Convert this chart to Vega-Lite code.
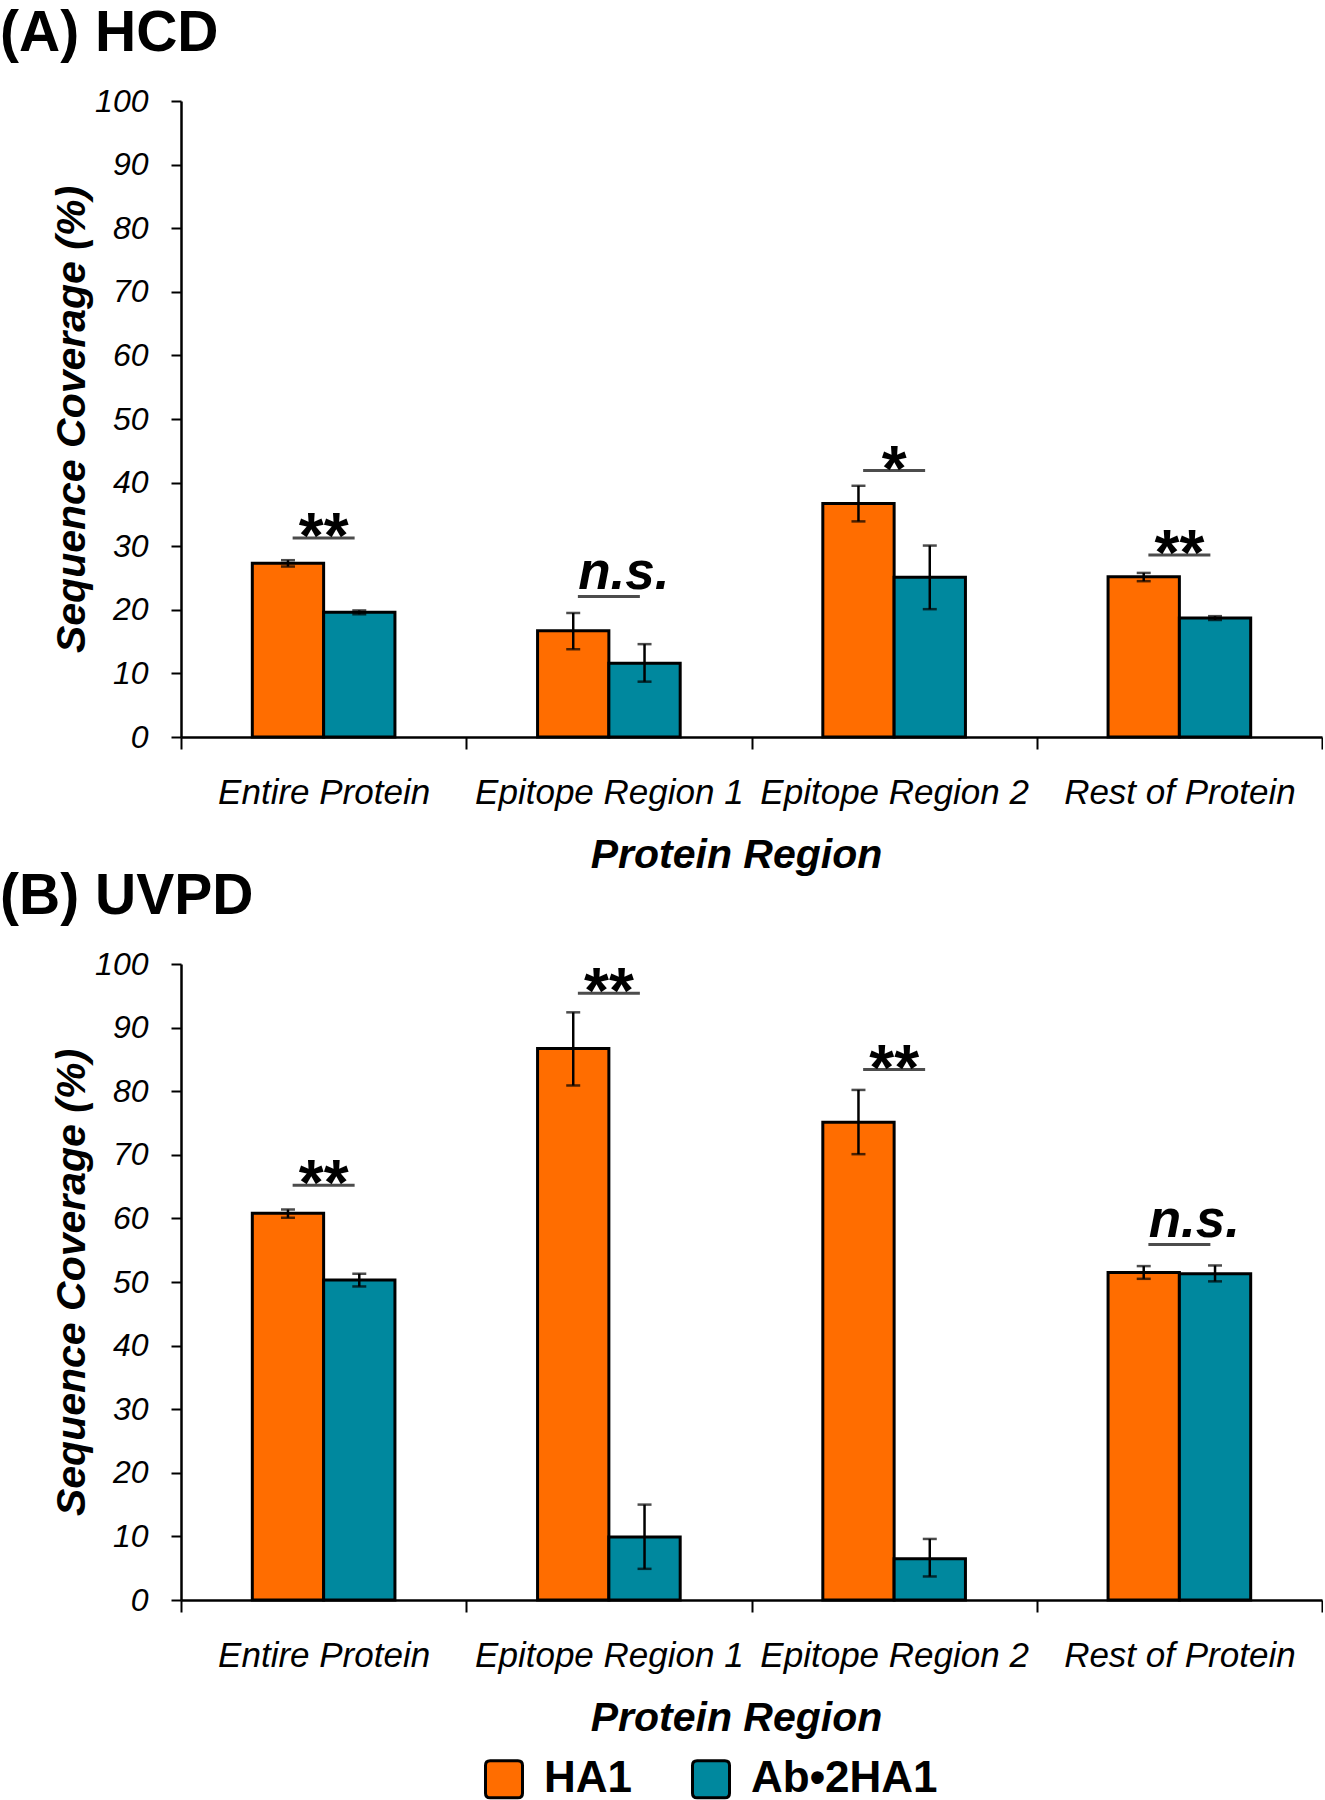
{
  "$schema": "https://vega.github.io/schema/vega-lite/v6.json",
  "padding": {"left": 0, "top": 5, "right": 0, "bottom": 0},
  "background": "white",
  "bounds": "flush",
  "spacing": 227,
  "config": {
    "view": {"stroke": null},
    "font": "Liberation Sans, Arial, sans-serif",
    "axis": {"domainColor": "black", "domainWidth": 2.5, "tickColor": "black", "tickWidth": 2, "labelColor": "black", "titleColor": "black", "grid": false, "labelLimit": 0}
  },
  "datasets": {
    "hcd": [
      {"region": "Entire Protein", "series": "HA1", "value": 27.3, "lo": 26.8, "hi": 27.8},
      {"region": "Entire Protein", "series": "Ab•2HA1", "value": 19.6, "lo": 19.3, "hi": 19.9},
      {"region": "Epitope Region 1", "series": "HA1", "value": 16.7, "lo": 13.8, "hi": 19.5},
      {"region": "Epitope Region 1", "series": "Ab•2HA1", "value": 11.6, "lo": 8.7, "hi": 14.6},
      {"region": "Epitope Region 2", "series": "HA1", "value": 36.7, "lo": 33.9, "hi": 39.5},
      {"region": "Epitope Region 2", "series": "Ab•2HA1", "value": 25.1, "lo": 20.1, "hi": 30.1},
      {"region": "Rest of Protein", "series": "HA1", "value": 25.2, "lo": 24.5, "hi": 25.8},
      {"region": "Rest of Protein", "series": "Ab•2HA1", "value": 18.7, "lo": 18.4, "hi": 19.0}
    ],
    "uvpd": [
      {"region": "Entire Protein", "series": "HA1", "value": 60.8, "lo": 60.1, "hi": 61.4},
      {"region": "Entire Protein", "series": "Ab•2HA1", "value": 50.3, "lo": 49.3, "hi": 51.3},
      {"region": "Epitope Region 1", "series": "HA1", "value": 86.7, "lo": 80.9, "hi": 92.4},
      {"region": "Epitope Region 1", "series": "Ab•2HA1", "value": 9.9, "lo": 4.9, "hi": 15.0},
      {"region": "Epitope Region 2", "series": "HA1", "value": 75.1, "lo": 70.1, "hi": 80.2},
      {"region": "Epitope Region 2", "series": "Ab•2HA1", "value": 6.5, "lo": 3.7, "hi": 9.6},
      {"region": "Rest of Protein", "series": "HA1", "value": 51.5, "lo": 50.5, "hi": 52.5},
      {"region": "Rest of Protein", "series": "Ab•2HA1", "value": 51.3, "lo": 50.1, "hi": 52.6}
    ],
    "sigA": [
      {"region": "Entire Protein", "level": 31.3, "label": "**", "kind": "star"},
      {"region": "Epitope Region 1", "level": 22.1, "label": "n.s.", "kind": "ns"},
      {"region": "Epitope Region 2", "level": 41.9, "label": "*", "kind": "star"},
      {"region": "Rest of Protein", "level": 28.6, "label": "**", "kind": "star"}
    ],
    "sigB": [
      {"region": "Entire Protein", "level": 65.2, "label": "**", "kind": "star"},
      {"region": "Epitope Region 1", "level": 95.4, "label": "**", "kind": "star"},
      {"region": "Epitope Region 2", "level": 83.4, "label": "**", "kind": "star"},
      {"region": "Rest of Protein", "level": 55.9, "label": "n.s.", "kind": "ns"}
    ]
  },
  "vconcat": [
    {
      "width": 1141,
      "height": 636,
      "title": {"text": "(A) HCD", "anchor": "start", "frame": "group", "dx": -181, "fontSize": 57, "fontWeight": "bold", "color": "black", "offset": 22},
      "layer": [
        {
          "data": {"name": "hcd"},
          "mark": {"type": "bar", "stroke": "black", "strokeWidth": 3},
          "encoding": {
            "x": {"field": "region", "type": "nominal", "sort": ["Entire Protein", "Epitope Region 1", "Epitope Region 2", "Rest of Protein"], "scale": {"paddingInner": 0, "paddingOuter": 0},
              "axis": {"title": "Protein Region", "labelAngle": 0, "tickBand": "extent", "tickSize": 12, "labelPadding": 26, "labelFontSize": 35, "labelFontStyle": "italic", "titleFontSize": 41, "titleFontStyle": "italic", "titleFontWeight": "bold", "titlePadding": 25, "titleX": 555}},
            "xOffset": {"field": "series", "type": "nominal", "sort": ["HA1", "Ab•2HA1"], "scale": {"paddingInner": 0, "paddingOuter": 1.07}},
            "y": {"field": "value", "type": "quantitative", "scale": {"domain": [0, 100], "nice": false},
              "axis": {"title": "Sequence Coverage (%)", "values": [0,5,10,15,20,25,30,35,40,45,50,55,60,65,70,75,80,85,90,95,100], "labelExpr": "datum.value % 10 === 0 ? datum.label : ''", "tickSize": 10, "labelPadding": 23, "labelFontSize": 32, "labelFontStyle": "italic", "titleFontSize": 41, "titleFontStyle": "italic", "titleFontWeight": "bold", "titleX": -109, "titleBaseline": "middle"}},
            "color": {"field": "series", "type": "nominal", "sort": ["HA1", "Ab•2HA1"], "scale": {"domain": ["HA1", "Ab•2HA1"], "range": ["#FF6D00", "#00889E"]},
              "legend": {"title": null, "orient": "none", "legendX": 301, "legendY": 1656, "direction": "horizontal", "padding": 0, "labelFontSize": 44, "labelFontWeight": "bold", "labelColor": "black", "labelLimit": 0, "symbolSize": 1369, "symbolStrokeColor": "black", "symbolStrokeWidth": 3, "symbolType": "M-0.75,-1 L0.75,-1 Q1,-1 1,-0.75 L1,0.75 Q1,1 0.75,1 L-0.75,1 Q-1,1 -1,0.75 L-1,-0.75 Q-1,-1 -0.75,-1 Z", "symbolOpacity": 1, "labelOffset": 18, "columnPadding": 53}}
          }
        },
        {
          "data": {"name": "hcd"},
          "mark": {"type": "rule", "color": "black", "strokeWidth": 2.5},
          "encoding": {
            "x": {"field": "region", "type": "nominal", "sort": ["Entire Protein", "Epitope Region 1", "Epitope Region 2", "Rest of Protein"]},
            "xOffset": {"field": "series", "type": "nominal", "sort": ["HA1", "Ab•2HA1"]},
            "y": {"field": "lo", "type": "quantitative"},
            "y2": {"field": "hi"}
          }
        },
        {
          "data": {"name": "hcd"},
          "mark": {"type": "tick", "color": "black", "size": 14, "thickness": 2.5},
          "encoding": {
            "x": {"field": "region", "type": "nominal", "sort": ["Entire Protein", "Epitope Region 1", "Epitope Region 2", "Rest of Protein"]},
            "xOffset": {"field": "series", "type": "nominal", "sort": ["HA1", "Ab•2HA1"]},
            "y": {"field": "lo", "type": "quantitative"}
          }
        },
        {
          "data": {"name": "hcd"},
          "mark": {"type": "tick", "color": "black", "size": 14, "thickness": 2.5},
          "encoding": {
            "x": {"field": "region", "type": "nominal", "sort": ["Entire Protein", "Epitope Region 1", "Epitope Region 2", "Rest of Protein"]},
            "xOffset": {"field": "series", "type": "nominal", "sort": ["HA1", "Ab•2HA1"]},
            "y": {"field": "hi", "type": "quantitative"}
          }
        },
        {
          "data": {"name": "sigA"},
          "mark": {"type": "tick", "color": "black", "size": 62, "thickness": 3},
          "encoding": {
            "x": {"field": "region", "type": "nominal", "sort": ["Entire Protein", "Epitope Region 1", "Epitope Region 2", "Rest of Protein"]},
            "y": {"field": "level", "type": "quantitative"}
          }
        },
        {
          "data": {"name": "sigA"},
          "transform": [{"filter": "datum.kind === 'star'"}],
          "mark": {"type": "text", "color": "black", "fontSize": 64, "fontWeight": "bold", "baseline": "alphabetic", "dy": 20},
          "encoding": {
            "x": {"field": "region", "type": "nominal", "sort": ["Entire Protein", "Epitope Region 1", "Epitope Region 2", "Rest of Protein"]},
            "y": {"field": "level", "type": "quantitative"},
            "text": {"field": "label"}
          }
        },
        {
          "data": {"name": "sigA"},
          "transform": [{"filter": "datum.kind === 'ns'"}],
          "mark": {"type": "text", "color": "black", "fontSize": 53, "fontWeight": "bold", "fontStyle": "italic", "baseline": "alphabetic", "dy": -7, "dx": 15},
          "encoding": {
            "x": {"field": "region", "type": "nominal", "sort": ["Entire Protein", "Epitope Region 1", "Epitope Region 2", "Rest of Protein"]},
            "y": {"field": "level", "type": "quantitative"},
            "text": {"field": "label"}
          }
        }
      ]
    },
    {
      "width": 1141,
      "height": 636,
      "title": {"text": "(B) UVPD", "anchor": "start", "frame": "group", "dx": -181, "fontSize": 57, "fontWeight": "bold", "color": "black", "offset": 22},
      "layer": [
        {
          "data": {"name": "uvpd"},
          "mark": {"type": "bar", "stroke": "black", "strokeWidth": 3},
          "encoding": {
            "x": {"field": "region", "type": "nominal", "sort": ["Entire Protein", "Epitope Region 1", "Epitope Region 2", "Rest of Protein"], "scale": {"paddingInner": 0, "paddingOuter": 0},
              "axis": {"title": "Protein Region", "labelAngle": 0, "tickBand": "extent", "tickSize": 12, "labelPadding": 26, "labelFontSize": 35, "labelFontStyle": "italic", "titleFontSize": 41, "titleFontStyle": "italic", "titleFontWeight": "bold", "titlePadding": 25, "titleX": 555}},
            "xOffset": {"field": "series", "type": "nominal", "sort": ["HA1", "Ab•2HA1"], "scale": {"paddingInner": 0, "paddingOuter": 1.07}},
            "y": {"field": "value", "type": "quantitative", "scale": {"domain": [0, 100], "nice": false},
              "axis": {"title": "Sequence Coverage (%)", "values": [0,5,10,15,20,25,30,35,40,45,50,55,60,65,70,75,80,85,90,95,100], "labelExpr": "datum.value % 10 === 0 ? datum.label : ''", "tickSize": 10, "labelPadding": 23, "labelFontSize": 32, "labelFontStyle": "italic", "titleFontSize": 41, "titleFontStyle": "italic", "titleFontWeight": "bold", "titleX": -109, "titleBaseline": "middle"}},
            "color": {"field": "series", "type": "nominal", "sort": ["HA1", "Ab•2HA1"], "scale": {"domain": ["HA1", "Ab•2HA1"], "range": ["#FF6D00", "#00889E"]}}
          }
        },
        {
          "data": {"name": "uvpd"},
          "mark": {"type": "rule", "color": "black", "strokeWidth": 2.5},
          "encoding": {
            "x": {"field": "region", "type": "nominal", "sort": ["Entire Protein", "Epitope Region 1", "Epitope Region 2", "Rest of Protein"]},
            "xOffset": {"field": "series", "type": "nominal", "sort": ["HA1", "Ab•2HA1"]},
            "y": {"field": "lo", "type": "quantitative"},
            "y2": {"field": "hi"}
          }
        },
        {
          "data": {"name": "uvpd"},
          "mark": {"type": "tick", "color": "black", "size": 14, "thickness": 2.5},
          "encoding": {
            "x": {"field": "region", "type": "nominal", "sort": ["Entire Protein", "Epitope Region 1", "Epitope Region 2", "Rest of Protein"]},
            "xOffset": {"field": "series", "type": "nominal", "sort": ["HA1", "Ab•2HA1"]},
            "y": {"field": "lo", "type": "quantitative"}
          }
        },
        {
          "data": {"name": "uvpd"},
          "mark": {"type": "tick", "color": "black", "size": 14, "thickness": 2.5},
          "encoding": {
            "x": {"field": "region", "type": "nominal", "sort": ["Entire Protein", "Epitope Region 1", "Epitope Region 2", "Rest of Protein"]},
            "xOffset": {"field": "series", "type": "nominal", "sort": ["HA1", "Ab•2HA1"]},
            "y": {"field": "hi", "type": "quantitative"}
          }
        },
        {
          "data": {"name": "sigB"},
          "mark": {"type": "tick", "color": "black", "size": 62, "thickness": 3},
          "encoding": {
            "x": {"field": "region", "type": "nominal", "sort": ["Entire Protein", "Epitope Region 1", "Epitope Region 2", "Rest of Protein"]},
            "y": {"field": "level", "type": "quantitative"}
          }
        },
        {
          "data": {"name": "sigB"},
          "transform": [{"filter": "datum.kind === 'star'"}],
          "mark": {"type": "text", "color": "black", "fontSize": 64, "fontWeight": "bold", "baseline": "alphabetic", "dy": 20},
          "encoding": {
            "x": {"field": "region", "type": "nominal", "sort": ["Entire Protein", "Epitope Region 1", "Epitope Region 2", "Rest of Protein"]},
            "y": {"field": "level", "type": "quantitative"},
            "text": {"field": "label"}
          }
        },
        {
          "data": {"name": "sigB"},
          "transform": [{"filter": "datum.kind === 'ns'"}],
          "mark": {"type": "text", "color": "black", "fontSize": 53, "fontWeight": "bold", "fontStyle": "italic", "baseline": "alphabetic", "dy": -7, "dx": 15},
          "encoding": {
            "x": {"field": "region", "type": "nominal", "sort": ["Entire Protein", "Epitope Region 1", "Epitope Region 2", "Rest of Protein"]},
            "y": {"field": "level", "type": "quantitative"},
            "text": {"field": "label"}
          }
        }
      ]
    }
  ]
}
